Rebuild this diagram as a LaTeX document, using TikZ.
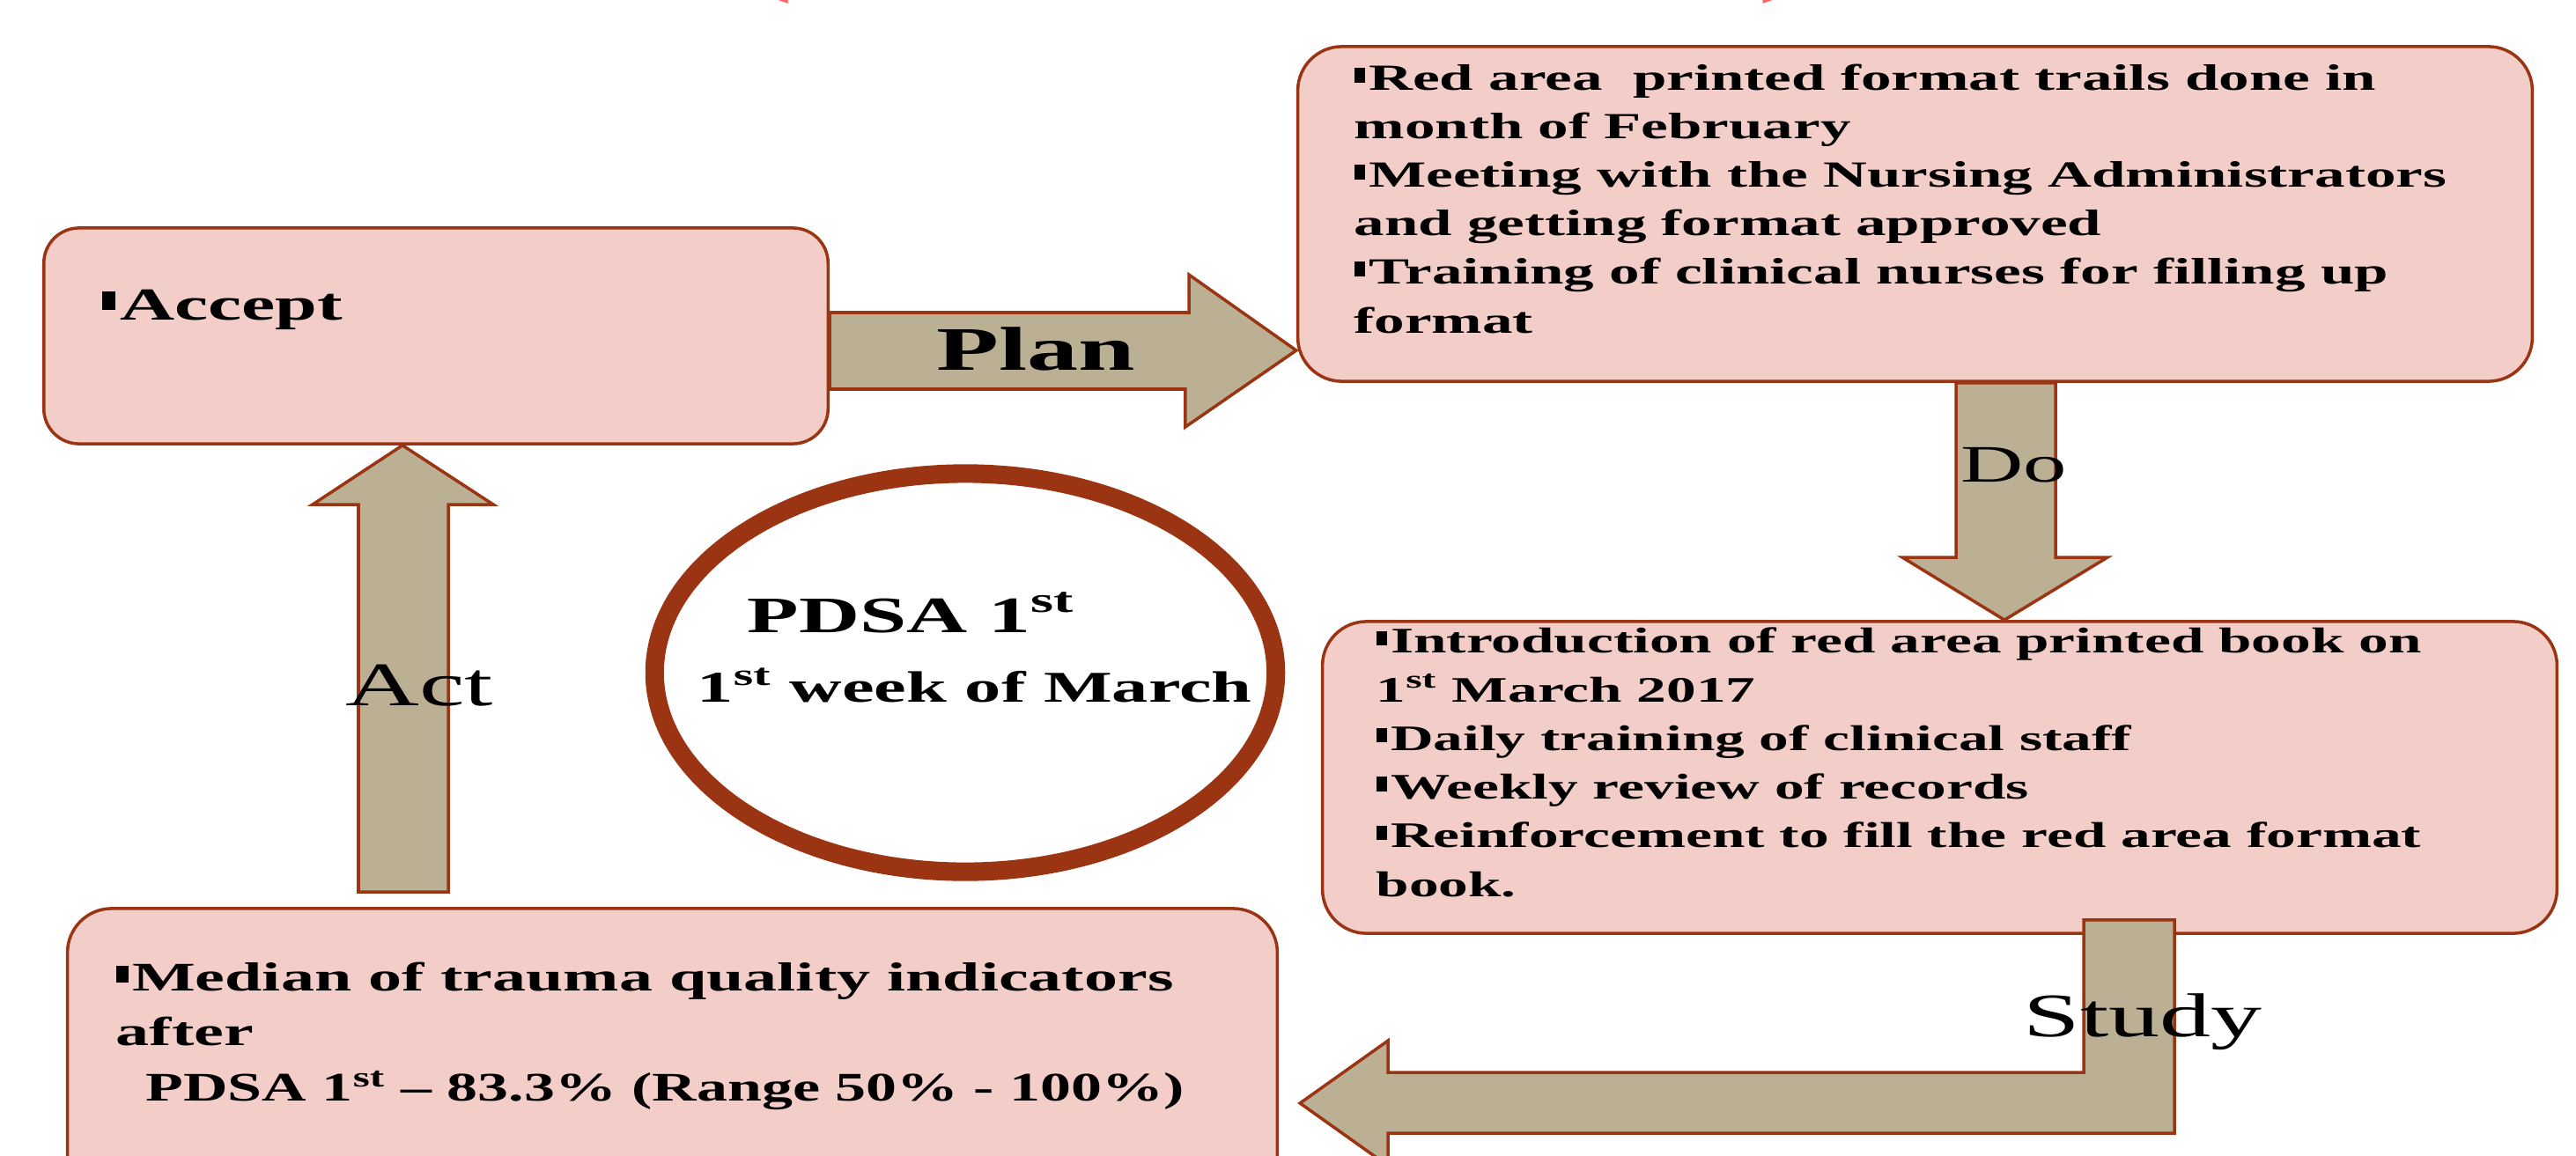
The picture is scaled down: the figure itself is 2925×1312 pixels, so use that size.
\documentclass[tikz,border=0pt]{standalone}
\usepackage{fontspec}
\setmainfont{Liberation Serif}[FakeStretch=1.65]
\usetikzlibrary{shapes.geometric,calc}
\definecolor{boxpink}{RGB}{243,206,201}
\definecolor{rimred}{RGB}{155,52,18}
\definecolor{arrowtan}{RGB}{188,176,148}
\newcommand{\sqb}{\rule[0.22em]{0.3em}{0.4em}\hspace{0.1em}}

\begin{document}
\begin{tikzpicture}[x=0.01cm,y=-0.01cm,
    box/.style={draw=rimred,line width=1pt,fill=boxpink,rounded corners=0.5cm,inner sep=0pt},
    boxtext/.style={anchor=base west,align=left,inner sep=0pt},
    blockarrow/.style={draw=rimred,line width=1pt,fill=arrowtan,line join=miter},
    steplabel/.style={anchor=base,inner sep=0pt,font=\fontsize{20}{24}\selectfont}]
  \useasboundingbox (0,0) rectangle (2925,1312);
  % title line, cut off by the page
  \node[anchor=base,inner sep=0pt,text=red!60,font=\fontsize{40}{48}\selectfont] (titleopen) at (864,-25) {(};
  \node[anchor=base,inner sep=0pt,text=red!60,font=\fontsize{40}{48}\selectfont] (titleclose) at (2033,-25) {)};
  % boxes
  \node[box,rounded corners=0.4cm,minimum width=8.9cm,minimum height=2.45cm] (accept) at (495,381.5) {};
  \node[box,minimum width=14.01cm,minimum height=3.8cm] (plan) at (2174.5,243) {};
  \node[box,minimum width=14.01cm,minimum height=3.54cm] (dobox) at (2202.5,883) {};
  \node[box,minimum width=13.73cm,minimum height=3.28cm] (results) at (763.5,1196) {};
  \node[draw=rimred,line width=6pt,ellipse,minimum width=7.05cm,minimum height=4.52cm,inner sep=0pt] (pdsa) at (1096,764) {};
  % arrows
  \draw[blockarrow] ($(accept.east)+(0,-26.5)$) -- ++(408,0) -- ++(0,-43) -- (plan.west |- 0,398)
    -- ++(-126,87) -- ++(0,-43) -- ($(accept.east)+(0,60.5)$) -- cycle;
  \draw[blockarrow] (2221,0 |- plan.south) -- (2221,633) -- (2160,633) -- (2276,0 |- dobox.north)
    -- (2393,633) -- (2334,633) -- (2334,0 |- plan.south) -- cycle;
  \draw[blockarrow] ($(407,0 |- results.north)+(0,-17)$) -- (407,573) -- (355,573) -- (457,0 |- accept.south)
    -- (560,573) -- (509,573) -- ($(509,0 |- results.north)+(0,-17)$) -- cycle;
  \draw[blockarrow] ($(2366,0 |- dobox.south)+(0,-17)$) -- ++(103,0) -- (2469,1287) -- (1576,1287) -- ++(0,37)
    -- ($(results.east |- 0,1253)+(24,0)$) -- (1576,1182) -- ++(0,36) -- (2366,1218) -- cycle;
  % texts (base anchor sits on the last line)
  \node[boxtext,font=\fontsize{14.8}{17}\selectfont\bfseries] (accepttext) at (115,363) {\sqb Accept};
  \node[boxtext,font=\fontsize{11.9}{15.65}\selectfont\bfseries] (plantext) at (1537,378)
    {\sqb Red area\ \ printed format trails done in\\
     month of February\\
     \sqb Meeting with the Nursing Administrators\\
     and getting format approved\\
     \sqb Training of clinical nurses for filling up\\
     format};
  \node[boxtext,font=\fontsize{11.6}{15.7}\selectfont\bfseries] (dotext) at (1562,1018)
    {\sqb Introduction of red area printed book on\\
     1\textsuperscript{st} March 2017\\
     \sqb Daily training of clinical staff\\
     \sqb Weekly review of records\\
     \sqb Reinforcement to fill the red area format\\
     book.};
  \node[boxtext,font=\fontsize{13.1}{17.64}\selectfont\bfseries] (resultstext) at (131,1250)
    {\sqb Median of trauma quality indicators\\
     after\\
     \hspace*{0.34cm}\scalebox{0.92}[1]{PDSA 1\textsuperscript{st} -- 83.3\% (Range 50\% - 100\%)}};
  \node[anchor=base west,inner sep=0pt,font=\fontsize{16.5}{20}\selectfont\bfseries] (pdsatitle) at (848,718) {PDSA 1\textsuperscript{st}};
  \node[anchor=base west,inner sep=0pt,font=\fontsize{14.2}{17}\selectfont\bfseries] (pdsaweek) at (791,797) {1\textsuperscript{st} week of March};
  % step labels
  \node[steplabel,font=\fontsize{20}{24}\selectfont\bfseries] (planlabel) at (1176,420) {Plan};
  \node[steplabel,font=\fontsize{17}{20}\selectfont] (dolabel) at (2287,547) {Do};
  \node[steplabel] (actlabel) at (476,801) {Act};
  \node[steplabel] (studylabel) at (2433,1177) {Study};
\end{tikzpicture}
\end{document}
